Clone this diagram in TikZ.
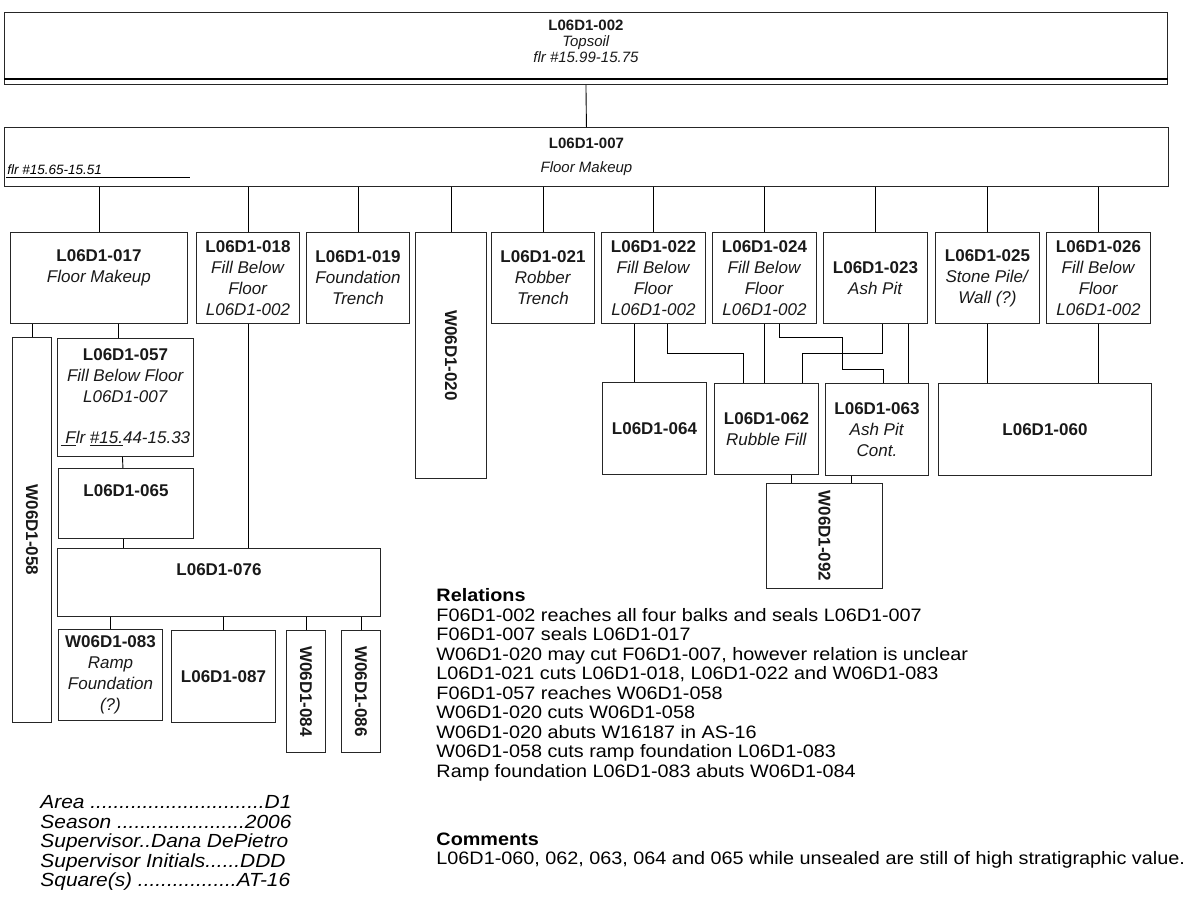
\documentclass[tikz,border=0pt]{standalone}
\usepackage{fontspec}
\setmainfont{Liberation Sans}
\newfontfamily\notesfont{Liberation Sans}[FakeStretch=1.1]
\usepackage{graphicx}
\usetikzlibrary{positioning}

\begin{document}
\begin{tikzpicture}[x=1pt,y=-1pt,line width=0.9pt,
  size/.style 2 args={minimum width=#1pt,minimum height=#2pt},
  unit/.style={draw=black!85,rectangle,anchor=north west,inner sep=0pt,
    align=center,text=black!90,font=\fontsize{17}{21}\selectfont},
  topunit/.style={unit,font=\fontsize{15}{16}\selectfont},
  notes/.style={anchor=north west,inner sep=0pt,align=left,font=\notesfont\fontsize{18}{19.5}\selectfont}]

  \useasboundingbox (0,0) rectangle (1197,903);

  % top of the sequence
  \node[topunit,size={1163}{72},text depth=14pt] (t002) at (4,12)
    {\textbf{L06D1-002}\\\textit{Topsoil}\\\textit{flr \#15.99-15.75}};
  \draw[line width=1.6pt] ([yshift=6pt]t002.south west) -- ([yshift=6pt]t002.south east);
  \node[topunit,size={1164}{59},font=\fontsize{15}{24}\selectfont] (f007) at (4,127)
    {\textbf{L06D1-007}\\\textit{Floor Makeup}};
  \node[anchor=base west,inner sep=0pt,font=\fontsize{13.5}{15}\selectfont\itshape] (f007flr) at (7,174)
    {flr \#15.65-15.51};
  \draw (f007flr.base west) ++(-1,3) -- ++(184,0);

  % units sealed by the floor makeup
  \node[unit,size={177}{91},text depth=23pt] (n017) at (10,232) {\textbf{L06D1-017}\\\textit{Floor Makeup}};
  \node[unit,size={103}{91}] (n018) at (196,232) {\textbf{L06D1-018}\\\textit{Fill Below}\\\textit{Floor}\\\textit{L06D1-002}};
  \node[unit,size={103}{91}] (n019) at (306,232) {\textbf{L06D1-019}\\\textit{Foundation}\\\textit{Trench}};
  \node[unit,size={71}{246}] (w020) at (415,232) {\rotatebox{-90}{\textbf{W06D1-020}}};
  \node[unit,size={103}{91}] (n021) at (491,232) {\textbf{L06D1-021}\\\textit{Robber}\\\textit{Trench}};
  \node[unit,size={104}{91}] (n022) at (601,232) {\textbf{L06D1-022}\\\textit{Fill Below}\\\textit{Floor}\\\textit{L06D1-002}};
  \node[unit,size={104}{91}] (n024) at (712,232) {\textbf{L06D1-024}\\\textit{Fill Below}\\\textit{Floor}\\\textit{L06D1-002}};
  \node[unit,size={104}{91}] (n023) at (823,232) {\textbf{L06D1-023}\\\textit{Ash Pit}};
  \node[unit,size={104}{91}] (n025) at (935,232) {\textbf{L06D1-025}\\\textit{Stone Pile/}\\\textit{Wall (?)}};
  \node[unit,size={104}{91}] (n026) at (1046,232) {\textbf{L06D1-026}\\\textit{Fill Below}\\\textit{Floor}\\\textit{L06D1-002}};

  % left branch
  \node[unit,size={39}{385}] (w058) at (12,337) {\rotatebox{-90}{\textbf{W06D1-058}}};
  \node[unit,size={136}{118}] (n057) at (57,338)
    {\textbf{L06D1-057}\\\textit{Fill Below Floor}\\\textit{L06D1-007}\\[20pt]\textit{\underline{\ F}lr \underline{\#1}\underline{5.}44-15.33}};
  \node[unit,size={135}{70},text depth=26pt] (n065) at (58,468) {\textbf{L06D1-065}};
  \node[unit,size={323}{68},text depth=26pt] (n076) at (57,548) {\textbf{L06D1-076}};
  \node[unit,size={104}{91}] (w083) at (58,629) {\textbf{W06D1-083}\\\textit{Ramp}\\\textit{Foundation}\\\textit{(?)}};
  \node[unit,size={104}{92}] (n087) at (171,630) {\textbf{L06D1-087}};
  \node[unit,size={39}{122}] (w084) at (286,630) {\rotatebox{-90}{\textbf{W06D1-084}}};
  \node[unit,size={39}{122}] (w086) at (341,630) {\rotatebox{-90}{\textbf{W06D1-086}}};

  % right branch
  \node[unit,size={104}{92}] (n064) at (602,382) {\textbf{L06D1-064}};
  \node[unit,size={104}{91}] (n062) at (714,383) {\textbf{L06D1-062}\\\textit{Rubble Fill}};
  \node[unit,size={103}{92}] (n063) at (825,383) {\textbf{L06D1-063}\\\textit{Ash Pit}\\\textit{Cont.}};
  \node[unit,size={213}{92}] (n060) at (938,383) {\textbf{L06D1-060}};
  \node[unit,size={116}{105}] (w092) at (766,483) {\rotatebox{-90}{\textbf{W06D1-092}}};

  % connectors
  \draw (t002.south) -- (f007.north);
  \foreach \u in {n017,n018,n019,w020,n021,n022,n024,n023,n025,n026}
    \draw (f007.south -| \u.north) -- (\u.north);

  \draw (n017.south -| w058.north) -- (w058.north);
  \draw ([xshift=-7pt]n057.north |- n017.south) -- ([xshift=-7pt]n057.north);
  \draw ([xshift=-3pt]n057.south) -- ([xshift=-3pt]n065.north);
  \draw ([xshift=-3pt]n065.south) -- ([xshift=-3pt]n065.south |- n076.north);
  \draw (n018.south) -- (n018.south |- n076.north);
  \foreach \u in {w083,n087,w084,w086}
    \draw (n076.south -| \u.north) -- (\u.north);

  \coordinate (jog) at (842,369);
  \draw ([xshift=-19pt]n022.south) -- ([xshift=-19pt]n022.south |- n064.north);
  \draw ([xshift=14pt]n022.south) -- ++(0,30) -| ([xshift=-23pt]n062.north);
  \draw (n024.south) -- (n024.south |- n062.north);
  \draw ([xshift=15pt]n024.south) -- ++(0,14) -| (jog) -| ([xshift=6pt]n063.north);
  \draw ([xshift=7pt]n023.south) -- ++(0,30) -| ([xshift=36pt]n062.north);
  \draw ([xshift=33pt]n023.south) -- ([xshift=33pt]n023.south |- n063.north);
  \draw (n025.south) -- (n025.south |- n060.north);
  \draw (n026.south) -- (n026.south |- n060.north);
  \draw ([xshift=25pt]n062.south) -- ([xshift=25pt]n062.south |- w092.north);
  \draw ([xshift=-26pt]n063.south) -- ([xshift=-26pt]n063.south |- w092.north);

  % notes
  \node[notes] (rel) at (436,588)
    {\textbf{Relations}\\
     F06D1-002 reaches all four balks and seals L06D1-007\\
     F06D1-007 seals L06D1-017\\
     W06D1-020 may cut F06D1-007, however relation is unclear\\
     L06D1-021 cuts L06D1-018, L06D1-022 and W06D1-083\\
     F06D1-057 reaches W06D1-058\\
     W06D1-020 cuts W06D1-058\\
     W06D1-020 abuts W16187 in AS-16\\
     W06D1-058 cuts ramp foundation L06D1-083\\
     Ramp foundation L06D1-083 abuts W06D1-084};
  \node[notes] (com) at (436,832)
    {\textbf{Comments}\\
     L06D1-060, 062, 063, 064 and 065 while unsealed are still of high stratigraphic value.};
  \node[notes,font=\notesfont\fontsize{19}{19.5}\selectfont\itshape] (info) at (40,795)
    {Area ..............................D1\\
     Season ......................2006\\
     Supervisor..Dana DePietro\\
     Supervisor Initials......DDD\\
     Square(s) .................AT-16};
\end{tikzpicture}
\end{document}
